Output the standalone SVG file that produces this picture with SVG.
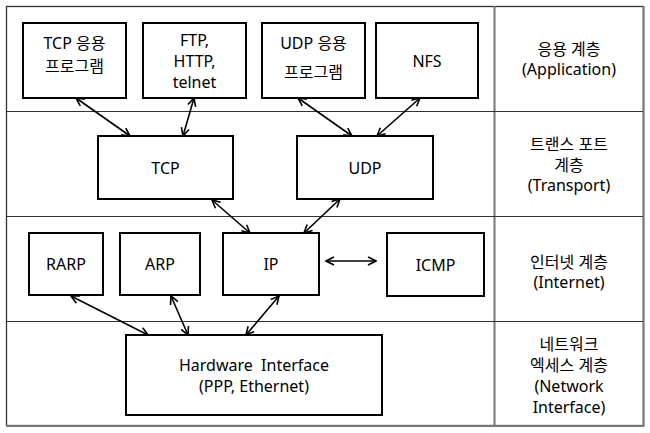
<svg xmlns="http://www.w3.org/2000/svg" width="650" height="433" viewBox="0 0 650 433">
<style>
.box{fill:#fff;stroke:#000;stroke-width:2}
.t{font-family:"Noto Sans","Noto Sans CJK KR",sans-serif;font-size:16px;fill:#000;text-anchor:middle}
.c{stroke:#000;stroke-width:1.6;fill:none;marker-start:url(#ah);marker-end:url(#ah)}
.hl{stroke:#333;stroke-width:1.2}
</style>
<defs>
<marker id="ah" viewBox="0 0 10 10" refX="9" refY="5" markerWidth="10" markerHeight="10" markerUnits="userSpaceOnUse" orient="auto-start-reverse">
<path d="M1,1 L9,5 L1,9" fill="none" stroke="#000" stroke-width="1.6"/>
</marker>
</defs>
<rect width="650" height="433" fill="#fff"/>
<g id="frame">
<rect x="6.5" y="6.5" width="637" height="419" fill="none" stroke="#333" stroke-width="1.3"/>
<line x1="643.5" y1="6" x2="643.5" y2="426.5" stroke="#777" stroke-width="2"/>
<line x1="6" y1="426" x2="644" y2="426" stroke="#777" stroke-width="2"/>
<line x1="494.5" y1="6" x2="494.5" y2="426" stroke="#777" stroke-width="2"/>
<line class="hl" x1="6" y1="111.5" x2="643" y2="111.5"/>
<line class="hl" x1="6" y1="216.5" x2="643" y2="216.5"/>
<line class="hl" x1="6" y1="321.5" x2="643" y2="321.5"/>
</g>
<g id="layers">
<text class="t" x="569" y="55">응용 계층</text>
<text class="t" x="569" y="75">(Application)</text>
<text class="t" x="569" y="150">트랜스 포트</text>
<text class="t" x="569" y="171">계층</text>
<text class="t" x="569" y="191">(Transport)</text>
<text class="t" x="569" y="268">인터넷 계층</text>
<text class="t" x="569" y="288">(Internet)</text>
<text class="t" x="569" y="350">네트워크</text>
<text class="t" x="569" y="371">엑세스 계층</text>
<text class="t" x="569" y="392">(Network</text>
<text class="t" x="569" y="413">Interface)</text>
</g>
<g id="tcp-app">
<rect class="box" x="23" y="23" width="103" height="75"/>
<text class="t" x="74.5" y="49">TCP 응용</text>
<text class="t" x="74.5" y="72">프로그램</text>
</g>
<g id="ftp">
<rect class="box" x="143" y="23" width="103" height="75"/>
<text class="t" x="194.5" y="46">FTP,</text>
<text class="t" x="194.5" y="67">HTTP,</text>
<text class="t" x="194.5" y="88">telnet</text>
</g>
<g id="udp-app">
<rect class="box" x="262" y="23" width="103" height="75"/>
<text class="t" x="313.5" y="49">UDP 응용</text>
<text class="t" x="313.5" y="78">프로그램</text>
</g>
<g id="nfs">
<rect class="box" x="376" y="23" width="102" height="75"/>
<text class="t" x="427" y="67">NFS</text>
</g>
<g id="tcp">
<rect class="box" x="98" y="136" width="135" height="63"/>
<text class="t" x="165.5" y="174">TCP</text>
</g>
<g id="udp">
<rect class="box" x="297" y="136" width="136" height="63"/>
<text class="t" x="365" y="174">UDP</text>
</g>
<g id="rarp">
<rect class="box" x="29" y="233" width="74" height="62"/>
<text class="t" x="66" y="270">RARP</text>
</g>
<g id="arp">
<rect class="box" x="120" y="233" width="80" height="62"/>
<text class="t" x="160" y="270">ARP</text>
</g>
<g id="ip">
<rect class="box" x="223" y="233" width="96" height="62"/>
<text class="t" x="271" y="270">IP</text>
</g>
<g id="icmp">
<rect class="box" x="387" y="233" width="97" height="63"/>
<text class="t" x="435.5" y="271">ICMP</text>
</g>
<g id="hardware">
<rect class="box" x="126" y="335" width="256" height="80"/>
<text class="t" x="254" y="371" xml:space="preserve">Hardware  Interface</text>
<text class="t" x="254" y="392">(PPP, Ethernet)</text>
</g>
<g id="connectors">
<line class="c" x1="76" y1="98" x2="130" y2="136"/>
<line class="c" x1="194" y1="98" x2="183" y2="136"/>
<line class="c" x1="298" y1="98" x2="352" y2="136"/>
<line class="c" x1="420" y1="98" x2="377" y2="136"/>
<line class="c" x1="212" y1="200" x2="250" y2="233"/>
<line class="c" x1="340" y1="199" x2="304" y2="233"/>
<line class="c" x1="326" y1="261" x2="376" y2="261"/>
<line class="c" x1="71" y1="296" x2="148" y2="335"/>
<line class="c" x1="171" y1="296" x2="188" y2="335"/>
<line class="c" x1="279" y1="296" x2="246" y2="335"/>
</g>
</svg>
